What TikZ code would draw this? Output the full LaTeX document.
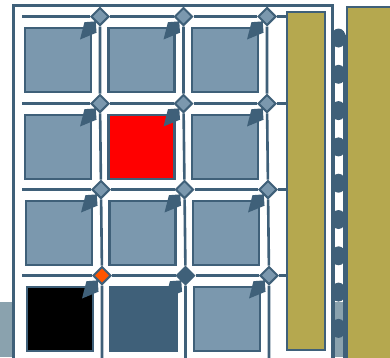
\documentclass[tikz,border=0pt]{standalone}
\usetikzlibrary{shapes.geometric,arrows.meta}
\definecolor{edgeblue}{HTML}{3F6079}
\definecolor{steel}{HTML}{7B98AE}
\definecolor{sandbar}{HTML}{B5A84F}
\definecolor{haze}{HTML}{8AA2AE}
\definecolor{flame}{HTML}{FF5500}
\tikzset{
  cell/.style={draw=edgeblue, line width=2.8pt, minimum width=66pt, minimum height=64pt, inner sep=0pt},
  knot/.style={diamond, draw=edgeblue, line width=2pt, minimum width=18pt, minimum height=18pt, aspect=1, inner sep=0pt},
  pin/.style={draw=edgeblue, line width=2pt, -{Kite[length=24pt,width=16pt,inset=8pt]}},
  rail/.style={draw=edgeblue, line width=2.6pt},
  bar/.style={draw=edgeblue, line width=2.5pt, fill=sandbar, inner sep=0pt},
}

\begin{document}
\begin{tikzpicture}[x=1pt,y=-1pt]
    \useasboundingbox (0,0) rectangle (390,357);
    \clip (0,0) rectangle (390,357);
    \fill[haze] (0,302) rectangle (390,357);
    \draw[edgeblue, line width=3pt, fill=white] (13.5,5) rectangle (332,372);
    \node[bar, minimum width=38pt, minimum height=338pt] (shelf) at (306,181) {};
    \node[bar, minimum width=60pt, minimum height=370pt, anchor=north west] (wall) at (345.5,5.5) {};
    % chain between frame and wall
    \fill[edgeblue] (331,35) rectangle (335,360);
    \fill[edgeblue] (342.5,35) rectangle (346,360);
    \foreach \k in {0,...,8}
        \fill[edgeblue] (338.5,38+36.3*\k) ellipse (7.5 and 9.5);
    % cells and knots, row by row
    \foreach \r/\y/\s/\fa/\fb/\ga/\gb in {
        1/60/0/steel/steel/steel/steel,
        2/147/0/steel/red/steel/steel,
        3/233/1/steel/steel/steel/steel,
        4/319/2/black/edgeblue/flame/edgeblue} {
        \foreach \c/\x/\f/\g in {1/58/\fa/\ga, 2/141.5/\fb/\gb, 3/225/steel/steel} {
            \node[cell, fill=\f] (cell-\r-\c) at (\x+\s,\y) {};
            \node[knot, fill=\g] (k-\r-\c) at (\x+\s+42,\y-43.5) {};
            \path (k-\r-\c.center) ++(-20,23) coordinate (tip-\r-\c);
            \draw[pin] (k-\r-\c) -- (tip-\r-\c);
        }
        \draw[rail] (k-\r-1 -| 22,0) -- (k-\r-1) -- (k-\r-2) -- (k-\r-3) -- (k-\r-3 -| shelf.west);
    }
    \foreach \c in {1,2,3}
        \draw[rail] (k-1-\c) -- (k-2-\c) -- (k-3-\c) -- (k-4-\c) -- (k-4-\c |- 0,360);
\end{tikzpicture}
\end{document}
